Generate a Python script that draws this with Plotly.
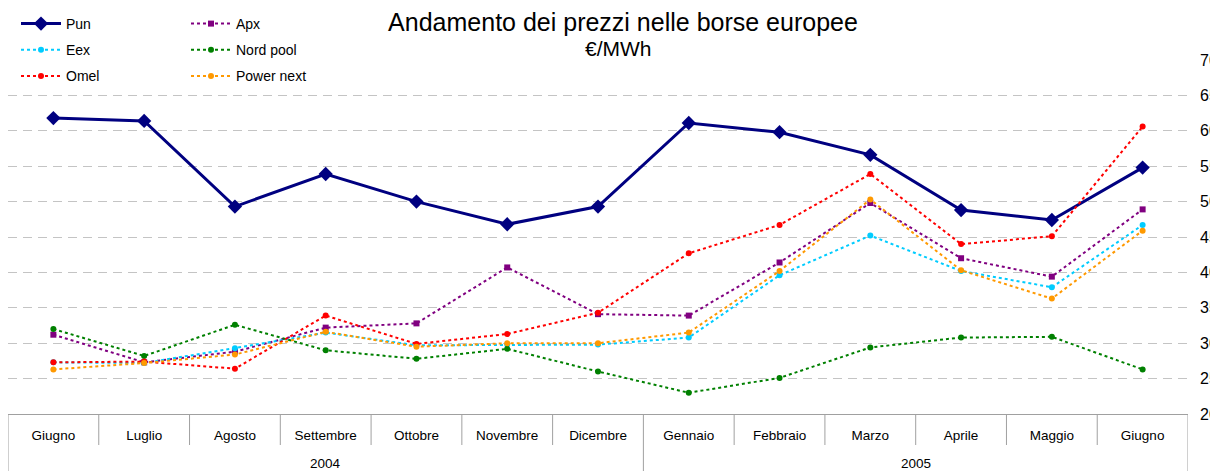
import plotly.graph_objects as go

months = ["Giugno", "Luglio", "Agosto", "Settembre", "Ottobre", "Novembre", "Dicembre",
          "Gennaio", "Febbraio", "Marzo", "Aprile", "Maggio", "Giugno"]
years = ["2004", "2005"]
year_counts = [7, 6]

pun = [61.8, 61.4, 49.3, 53.9, 50.0, 46.8, 49.3, 61.1, 59.8, 56.6, 48.8, 47.4, 54.8]
apx = [31.2, 27.3, 28.8, 32.2, 32.8, 40.7, 34.1, 33.9, 41.4, 49.8, 42.0, 39.4, 48.9]
eex = [27.3, 27.2, 29.3, 31.5, 29.7, 29.8, 29.8, 30.8, 39.6, 45.2, 40.2, 37.9, 46.7]
nord_pool = [32.0, 28.2, 32.6, 29.0, 27.8, 29.2, 26.0, 23.0, 25.1, 29.4, 30.8, 30.9, 26.3]
omel = [27.3, 27.4, 26.4, 33.9, 29.9, 31.3, 34.3, 42.7, 46.7, 53.9, 44.0, 45.1, 60.6]
power_next = [26.3, 27.2, 28.4, 31.6, 29.5, 30.0, 30.0, 31.5, 40.2, 50.3, 40.3, 36.3, 45.9]

# page body has an 8px margin: figure is laid out 8px left/up of page coordinates
OFF = 8
W, H = 1218 - OFF, 471 - OFF
ML, MR, MT, MB = 0, 30, 60 - OFF, 471 - 414
PW, PH = W - ML - MR, H - MT - MB
FONT = "Liberation Sans, Arial, sans-serif"


def px_x(p):
    return (p - OFF - ML) / PW


def px_y(p):
    return (H - MB - (p - OFF)) / PH


x = list(range(len(months)))

fig = go.Figure()

fig.add_trace(go.Scatter(x=x, y=pun, name="Pun", mode="lines+markers",
                         line=dict(color="#000080", width=3),
                         marker=dict(symbol="diamond", size=11, color="#000080"),
                         legend="legend", legendgroup="pun"))

dotted = [
    ("Apx", apx, "#800080", "square", 6, "legend2"),
    ("Eex", eex, "#00CCFF", "circle", 6, "legend"),
    ("Nord pool", nord_pool, "#008000", "circle", 6, "legend2"),
    ("Omel", omel, "#FF0000", "circle", 6, "legend"),
    ("Power next", power_next, "#FF9900", "circle", 6, "legend2"),
]
for name, vals, col, sym, sz, lg in dotted:
    fig.add_trace(go.Scatter(x=x, y=vals, name=name, mode="lines+markers",
                             line=dict(color=col, width=2, dash="3px,3px"),
                             marker=dict(symbol=sym, size=sz, color=col),
                             legend=lg, legendgroup=name))

box_col = "#a0a0a0"
shapes = []
# white band under the legend area (Excel legend box hides the top gridline)
shapes.append(dict(type="rect", xref="paper", yref="paper", x0=0, x1=px_x(333),
                   y0=0.98, y1=1.02, fillcolor="white", line=dict(width=0), layer="between"))
bottom_full = px_y(471)
bottom_short = px_y(445)
boundaries_full = {0}
acc = 0
for c in year_counts:
    acc += c
    boundaries_full.add(acc)
for i in range(len(months) + 1):
    y0 = bottom_full if i in boundaries_full else bottom_short
    shapes.append(dict(type="line", xref="x", yref="paper", x0=i - 0.5, x1=i - 0.5,
                       y0=0, y1=y0, line=dict(color=box_col, width=1)))

annotations = []
start = 0
for yr, c in zip(years, year_counts):
    annotations.append(dict(x=start + (c - 1) / 2, y=px_y(463), xref="x", yref="paper",
                            text=yr, showarrow=False, font=dict(size=13.5, color="black", family=FONT),
                            xanchor="center", yanchor="middle"))
    start += c
annotations.append(dict(x=px_x(618), y=px_y(48), xref="paper", yref="paper", text="€/MWh",
                        showarrow=False, font=dict(size=21, color="black", family=FONT),
                        xanchor="center", yanchor="middle"))

fig.update_layout(
    width=W, height=H,
    margin=dict(l=ML, r=MR, t=MT, b=MB, autoexpand=False),
    paper_bgcolor="white", plot_bgcolor="white",
    font=dict(family=FONT, color="black"),
    title=dict(text="Andamento dei prezzi nelle borse europee", x=615 / W, y=1 - 14 / H,
               xref="container", yref="container", xanchor="center", yanchor="middle",
               font=dict(size=25, color="black", family=FONT)),
    showlegend=True,
    legend=dict(x=8 / W, y=1.0, xref="container", yref="container",
                xanchor="left", yanchor="top", bgcolor="rgba(0,0,0,0)",
                font=dict(size=14, family=FONT, color="black"), tracegroupgap=5,
                itemwidth=40),
    legend2=dict(x=178 / W, y=1.0, xref="container", yref="container",
                 xanchor="left", yanchor="top", bgcolor="rgba(0,0,0,0)",
                 font=dict(size=14, family=FONT, color="black"), tracegroupgap=5,
                 itemwidth=40),
    xaxis=dict(range=[-0.5, len(months) - 0.5], tickmode="array", tickvals=x, ticktext=months,
               showgrid=False, zeroline=False, showline=True, linecolor=box_col, linewidth=1,
               ticks="", ticklabelstandoff=9, tickfont=dict(size=13.5, family=FONT, color="black")),
    yaxis=dict(range=[20, 70], dtick=5, side="right", showgrid=True, gridcolor="#c4c4c4",
               griddash="9px,6px", gridwidth=1, zeroline=False, showline=False, ticks="",
               ticklabelstandoff=11, tickfont=dict(size=16, family=FONT, color="black")),
    shapes=shapes,
    annotations=annotations,
)

fig.write_html("out.html")
